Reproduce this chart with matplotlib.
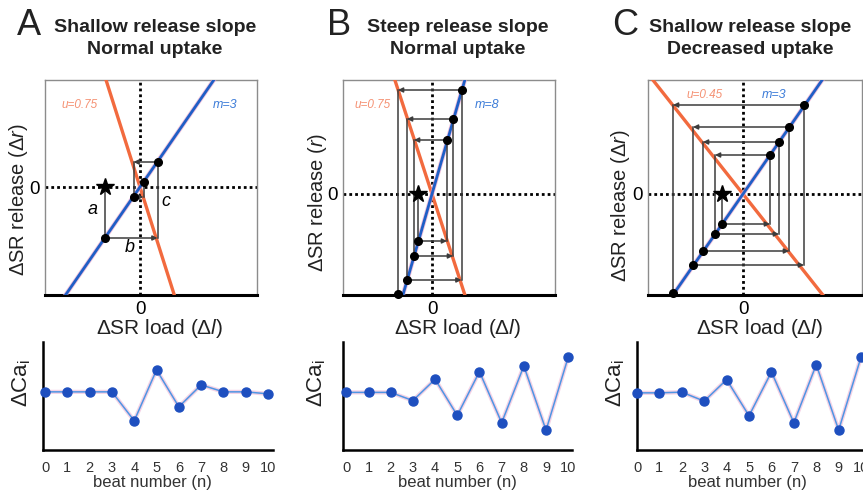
import numpy as np
import matplotlib
matplotlib.use('Agg')
import matplotlib.pyplot as plt

plt.rcParams['font.family'] = ['Liberation Sans', 'DejaVu Sans']
plt.rcParams['mathtext.fontset'] = 'custom'
plt.rcParams['mathtext.rm'] = 'Liberation Sans'
plt.rcParams['mathtext.it'] = 'Liberation Sans:italic'
plt.rcParams['mathtext.bf'] = 'Liberation Sans:bold'

W, H = 863, 497

# ---------------- data ----------------
panel_letters = ['A', 'B', 'C']
title_line1 = ['Shallow release slope', 'Steep release slope', 'Shallow release slope']
title_line2 = ['Normal uptake', 'Normal uptake', 'Decreased uptake']
uptake_labels = ['u=0.75', 'u=0.75', 'u=0.45']
release_labels = ['m=3', 'm=8', 'm=3']
ylabels_top = [r'ΔSR release $\mathit{(Δr)}$', r'ΔSR release $\mathit{(r)}$',
               r'ΔSR release $\mathit{(Δr)}$']
xlabel_top = r'ΔSR load $\mathit{(Δl)}$'

# drawn slopes of the release (blue) and uptake (orange) lines, in panel units
release_slope = [1.45, 3.47, 1.44]
uptake_slope = [-3.15, -3.07, -1.265]

# cobweb iterates (SR load, SR release)
load_A = [-3.5, 1.75, -0.65, 0.35, -0.15]
release_A = [-5.1, 2.5, -1.0, 0.5]
load_B = [-1.4, 1.5, -1.8, 2.1, -2.5, 2.95, -3.4]
release_B = [-4.7, 5.4, -6.2, 7.5, -8.6, 10.4, -10.0]
load_C = [-2.1, 2.7, -2.8, 3.6, -4.0, 4.6, -5.0, 6.1, -7.0]
release_C = [-3.0, 3.9, -4.0, 5.2, -5.7, 6.7, -7.1, 8.9, -9.9]
loads = [load_A, load_B, load_C]
releases = [release_A, release_B, release_C]

beats = list(range(11))
ca_A = [0, 0, 0, 0, -2.9, 2.2, -1.5, 0.7, 0, 0, -0.2]
ca_B = [0, 0, 0, -0.83, 1.33, -2.33, 2.1, -3.07, 2.67, -3.83, 3.57]
ca_C = [0, 0, 0.07, -0.83, 1.33, -2.3, 2.1, -3.0, 2.83, -3.73, 3.6]
cas = [ca_A, ca_B, ca_C]

# ---------------- layout (pixels) ----------------
top_box = [(45, 80, 257, 295), (343, 80, 555, 295), (648, 80, 862, 295)]
centers = [(140, 187), (432, 194), (743, 194)]
bot_box = [(43, 342, 273, 450), (343, 342, 572, 450), (637, 342, 866, 450)]
bot_xlim = [(-0.09, 10.22), (-0.15, 10.17), (0.0, 10.22)]
bot_ylim = [(-5.83, 5.0), (-5.83, 5.1), (-5.73, 5.1)]

ORANGE = '#f26a3e'
ORANGE_TXT = '#f59274'
BLUE = '#1f5fc6'
BLUE_TXT = '#3c7cd8'
PINK = '#eaa6cc'
GRAY = '#3c3c3c'

fig = plt.figure(figsize=(W / 100, H / 100), dpi=100)


def fx(x):
    return x / W


def fy(y):
    return 1 - y / H


def add_ax(box):
    x0, y0, x1, y1 = box
    return fig.add_axes([fx(x0), fy(y1), (x1 - x0) / W, (y1 - y0) / H])


letter_x = [17, 327, 612]
title_cx = [155, 458, 750]
ylab_top_pos = [(18, 200), (317, 202), (620, 206)]
xlab_top_pos = [(160, 328), (458, 328), (760, 328)]
u_pos = [(80, 105), (373, 105), (705, 95)]
m_pos = [(225, 105), (487, 105), (774, 95)]
ylab_bot_pos = [(22, 383), (317, 383), (616, 383)]
beat_lab_x = [152, 457, 747]

for i in range(3):
    # titles
    fig.text(fx(letter_x[i]), fy(35), panel_letters[i], fontsize=26,
             ha='left', va='baseline', color='#222222')
    fig.text(fx(title_cx[i]), fy(32), title_line1[i], fontsize=14,
             fontweight='bold', ha='center', va='baseline', color='#222222')
    fig.text(fx(title_cx[i]), fy(54), title_line2[i], fontsize=14,
             fontweight='bold', ha='center', va='baseline', color='#222222')

    # ---------- cobweb diagram ----------
    x0, y0, x1, y1 = top_box[i]
    cx, cy = centers[i]
    ax = add_ax(top_box[i])
    ax.set_xlim((x0 - cx) / 10, (x1 - cx) / 10)
    ax.set_ylim((cy - y1) / 10, (cy - y0) / 10)
    ax.axhline(0, color='k', lw=2, ls=(0, (1, 1.1)), zorder=1)
    ax.axvline(0, color='k', lw=2, ls=(0, (1, 1.1)), zorder=1)
    xx = np.array([-30.0, 30.0])
    ax.plot(xx, uptake_slope[i] * xx, color=ORANGE, lw=2.4, zorder=3)
    ax.plot(xx, release_slope[i] * xx, color=PINK, lw=3.2, alpha=0.7, zorder=3.5)
    ax.plot(xx, release_slope[i] * xx, color=BLUE, lw=2.0, zorder=4)

    L = loads[i]
    R = releases[i]
    # from the star down to the first point
    ax.plot([L[0], L[0]], [0, R[0]], color=GRAY, lw=1.1, zorder=5)
    for n in range(len(R)):
        if n + 1 < len(L):
            ax.annotate('', xy=(L[n + 1], R[n]), xytext=(L[n], R[n]),
                        arrowprops=dict(arrowstyle='-|>', color=GRAY, lw=1.1,
                                        mutation_scale=7, shrinkA=0, shrinkB=0),
                        zorder=5)
            if n + 1 < len(R):
                ax.plot([L[n + 1], L[n + 1]], [R[n], R[n + 1]], color=GRAY,
                        lw=1.1, zorder=5)
    ax.plot(L[:len(R)], R, 'o', color='k', ms=5.5, zorder=6, clip_on=False)
    ax.plot([L[0]], [0], marker='*', color='k', ms=13, zorder=7, linestyle='none')

    ax.set_xticks([0])
    ax.set_yticks([0])
    ax.tick_params(length=0, labelsize=13.5, pad=4)
    for s in ['top', 'left', 'right']:
        ax.spines[s].set_color('#8c8c8c')
        ax.spines[s].set_linewidth(1.0)
    ax.spines['bottom'].set_color('k')
    ax.spines['bottom'].set_linewidth(2.2)

    fig.text(fx(ylab_top_pos[i][0]), fy(ylab_top_pos[i][1]), ylabels_top[i],
             rotation=90, fontsize=14.5, ha='center', va='center', color='#222222')
    fig.text(fx(xlab_top_pos[i][0]), fy(xlab_top_pos[i][1]), xlabel_top,
             fontsize=15, ha='center', va='center', color='#222222')
    fig.text(fx(u_pos[i][0]), fy(u_pos[i][1]), uptake_labels[i], fontsize=8.5,
             style='italic', color=ORANGE_TXT, ha='center', va='center')
    fig.text(fx(m_pos[i][0]), fy(m_pos[i][1]), release_labels[i], fontsize=9,
             style='italic', color=BLUE_TXT, ha='center', va='center')

    # ---------- beat trace ----------
    bx = add_ax(bot_box[i])
    bx.set_xlim(*bot_xlim[i])
    bx.set_ylim(*bot_ylim[i])
    bx.plot(beats, cas[i], color=PINK, lw=3, alpha=0.5, zorder=2)
    bx.plot(beats, cas[i], color='#4f95e3', lw=1.1, zorder=3)
    bx.plot(beats, cas[i], 'o', color='#1e4fbf', ms=6.5, zorder=4, clip_on=False)
    bx.set_xticks(beats)
    bx.set_yticks([])
    bx.tick_params(length=0, labelsize=10.5, pad=8, labelcolor='#333333')
    for s in ['top', 'right']:
        bx.spines[s].set_visible(False)
    for s in ['left', 'bottom']:
        bx.spines[s].set_color('k')
        bx.spines[s].set_linewidth(1.8)
    bx.patch.set_alpha(0)
    fig.text(fx(ylab_bot_pos[i][0]), fy(ylab_bot_pos[i][1]), r'ΔCa$_\mathrm{i}$',
             rotation=90, fontsize=16, ha='center', va='center', color='#222222')
    fig.text(fx(beat_lab_x[i]), fy(483), 'beat number (n)', fontsize=12,
             ha='center', va='center', color='#333333')

# labels a, b, c in panel A
fig.text(fx(93), fy(209), 'a', fontsize=13, style='italic', ha='center', va='center')
fig.text(fx(130), fy(248), 'b', fontsize=13, style='italic', ha='center', va='center')
fig.text(fx(166), fy(201), 'c', fontsize=13, style='italic', ha='center', va='center')

fig.savefig('out.png', dpi=100)
